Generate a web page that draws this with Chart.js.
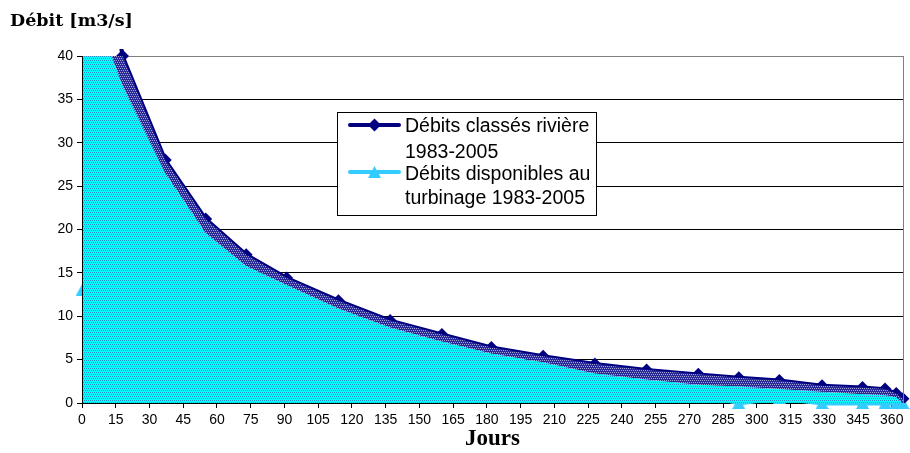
<!DOCTYPE html>
<html><head><meta charset="utf-8">
<script src="https://cdn.jsdelivr.net/npm/chart.js@4.4.1/dist/chart.umd.min.js"></script>
<style>html,body{margin:0;padding:0;background:#fff}#wrap{width:910px;height:453px;position:relative}</style>
</head><body><div id="wrap"><canvas id="c" width="910" height="453"></canvas></div>
<script>
// ---- data ----
const days = [0, 18, 37, 55, 73, 91, 114, 137, 160, 182, 205, 228, 251, 274, 292, 310, 329, 347, 357, 362, 365];
const debitsRiviere = [70, 40.0, 28.0, 21.2, 17.1, 14.4, 11.8, 9.5, 7.9, 6.4, 5.4, 4.5, 3.8, 3.3, 2.9, 2.6, 2.0, 1.8, 1.6, 1.1, 0.5];
const debitsTurbinage = [13, 13, 13, 13, 13, 12.6, 9.9, 7.7, 6.1, 4.6, 3.7, 2.6, 1.9, 1.2, 0, 0.6, 0, 0, 0, 0, 0];
const aireTurbinable = [49.4, 36.6, 26.5, 19.6, 15.8, 13.6, 10.9, 8.7, 7.1, 5.7, 4.7, 3.4, 2.7, 2.1, 1.9, 1.6, 1.3, 1.0, 0.9, 0.7, 0];
const xTicks = [0, 15, 30, 45, 60, 75, 90, 105, 120, 135, 150, 165, 180, 195, 210, 225, 240, 255, 270, 285, 300, 315, 330, 345, 360];
const yTicks = [0, 5, 10, 15, 20, 25, 30, 35, 40];
const seriesLabels = [["Débits classés rivière", "1983-2005"], ["Débits disponibles au", "turbinage 1983-2005"]];
const titleText = "Débit [m3/s]";
const xTitle = "Jours";

const canvas = document.getElementById('c');
const ctx = canvas.getContext('2d');

function makePattern(base, dot) {
  const c = document.createElement('canvas'); c.width = 4; c.height = 4;
  const g = c.getContext('2d');
  g.fillStyle = base; g.fillRect(0, 0, 4, 4);
  g.fillStyle = dot;
  g.fillRect(0, 0, 1, 1); g.fillRect(2, 0, 1, 1); g.fillRect(1, 2, 1, 1); g.fillRect(3, 2, 1, 1);
  return ctx.createPattern(c, 'repeat');
}
const cyanPattern = makePattern('#00FFFF', '#2E8FC8');
const bandPattern = makePattern('#2A2A96', '#A0A0D8');

function triangleImage(color, w, h) {
  const c = document.createElement('canvas'); c.width = w; c.height = h;
  const g = c.getContext('2d');
  g.fillStyle = color;
  g.beginPath(); g.moveTo(w / 2, 0); g.lineTo(w, h); g.lineTo(0, h); g.closePath(); g.fill();
  return c;
}
const triMarker = triangleImage('#33CCFF', 13, 12);

const pts = arr => days.map((d, i) => ({x: d, y: arr[i]}));

const axesOverlay = {
  id: 'axesOverlay',
  afterDatasetsDraw(chart) {
    const a = chart.chartArea, c = chart.ctx;
    c.save();
    c.lineWidth = 1;
    c.strokeStyle = '#000';
    c.beginPath(); c.moveTo(Math.round(a.left) + 0.5, a.top); c.lineTo(Math.round(a.left) + 0.5, a.bottom + 1); c.stroke();
    c.strokeStyle = '#808080';
    c.beginPath(); c.moveTo(Math.round(a.right) + 0.5, a.top); c.lineTo(Math.round(a.right) + 0.5, a.bottom); c.stroke();
    c.restore();
  }
};

const boxLegend = {
  id: 'boxLegend',
  afterDraw(chart) {
    const c = chart.ctx;
    c.save();
    c.fillStyle = '#fff';
    c.fillRect(337, 112, 260, 104);
    c.strokeStyle = '#000'; c.lineWidth = 1;
    c.strokeRect(337.5, 112.5, 259, 103);
    const entries = [
      {ds: chart.data.datasets[2], y: 125, lines: seriesLabels[0], base: [131.5, 158]},
      {ds: chart.data.datasets[3], y: 172, lines: seriesLabels[1], base: [180, 204]}
    ];
    entries.forEach((e, k) => {
      c.strokeStyle = e.ds.borderColor; c.lineWidth = 4; c.lineCap = 'round';
      c.beginPath(); c.moveTo(350, e.y); c.lineTo(399, e.y); c.stroke();
      c.fillStyle = e.ds.borderColor;
      const x = 374.5;
      if (k === 0) {
        const r = 6.5;
        c.beginPath();
        c.moveTo(x, e.y - r); c.lineTo(x + r, e.y); c.lineTo(x, e.y + r); c.lineTo(x - r, e.y);
        c.closePath(); c.fill();
      } else {
        c.drawImage(triMarker, Math.round(x - triMarker.width / 2), Math.round(e.y - triMarker.height / 2));
      }
      c.fillStyle = '#000';
      c.font = '19.5px "Liberation Sans", Arial, sans-serif';
      c.textBaseline = 'alphabetic'; c.textAlign = 'left';
      e.lines.forEach((t, i) => c.fillText(t, 405, e.base[i]));
    });
    c.restore();
  }
};

new Chart(ctx, {
  type: 'line',
  data: {
    datasets: [
      {label: 'bande', data: pts(debitsRiviere), fill: 1, backgroundColor: bandPattern, borderColor: 'rgba(0,0,0,0)', borderWidth: 0, pointRadius: 0, tension: 0},
      {label: 'aire', data: pts(aireTurbinable), fill: 'origin', backgroundColor: cyanPattern, borderColor: 'rgba(0,0,0,0)', borderWidth: 0, pointRadius: 0, tension: 0},
      {label: seriesLabels[0].join(' '), data: pts(debitsRiviere), borderColor: '#000080', backgroundColor: '#000080', pointBorderColor: '#000080', borderWidth: 4, pointStyle: 'rectRot', pointRadius: 6.5, pointBorderWidth: 0, fill: false, tension: 0, clip: {left: 0, top: 7, right: 8, bottom: 0}},
      {label: seriesLabels[1].join(' '), data: pts(debitsTurbinage), borderColor: '#33CCFF', backgroundColor: '#33CCFF', pointBorderColor: '#33CCFF', borderWidth: 5, pointStyle: triMarker, pointRadius: 6, pointBorderWidth: 0, fill: false, tension: 0, clip: {left: 10, top: 0, right: 8, bottom: 8}}
    ]
  },
  options: {
    responsive: false, animation: false, devicePixelRatio: 1,
    layout: {padding: {left: 10, right: 7, top: 0, bottom: 0}},
    plugins: {
      legend: {display: false}, tooltip: {enabled: false},
      title: {display: true, text: titleText, align: 'start', color: '#000',
        font: {family: '"DejaVu Serif", serif', size: 17.5, weight: 'bold', lineHeight: 1.2},
        padding: {top: 11, bottom: 24}}
    },
    scales: {
      x: {
        type: 'linear', min: 0, max: 365,
        afterBuildTicks: a => { a.ticks = xTicks.map(v => ({value: v})); },
        afterFit: s => { s.height = 50; },
        grid: {display: true, drawOnChartArea: false, drawTicks: true, tickLength: 5, tickColor: '#000'},
        border: {display: true, color: '#000', width: 1},
        ticks: {color: '#000', font: {family: '"Liberation Sans", Arial, sans-serif', size: 14}, padding: 4, maxRotation: 0, autoSkip: false},
        title: {display: true, text: xTitle, color: '#000', font: {family: '"Liberation Serif", serif', size: 23, weight: 'bold', lineHeight: 1.2}, padding: {top: 0, bottom: 0}}
      },
      y: {
        min: 0, max: 40,
        afterBuildTicks: a => { a.ticks = yTicks.map(v => ({value: v})); },
        afterFit: s => { s.width = 72; },
        grid: {color: c => (c.tick && c.tick.value === 40) ? '#808080' : '#000', tickColor: '#000', tickLength: 5, lineWidth: 1},
        border: {display: true, color: '#000', width: 1},
        ticks: {color: '#000', font: {family: '"Liberation Sans", Arial, sans-serif', size: 14}, padding: 4}
      }
    }
  },
  plugins: [axesOverlay, boxLegend]
});
</script>
</body></html>
